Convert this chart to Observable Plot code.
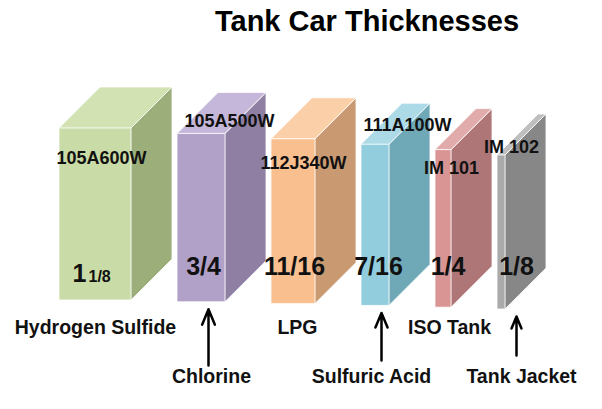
<!DOCTYPE html>
<html><head><meta charset="utf-8">
<script src="https://cdn.jsdelivr.net/npm/d3@7"></script>
<script src="https://cdn.jsdelivr.net/npm/@observablehq/plot@0.6"></script>
<style>html,body{margin:0;padding:0;background:#fff;} #chart svg{display:block}</style>
</head><body><div id="chart"></div>
<script>
// ---- data ----
const cars = ["Hydrogen Sulfide", "Chlorine", "LPG", "Sulfuric Acid", "ISO Tank", "Tank Jacket"];
const specs = ["105A600W", "105A500W", "112J340W", "111A100W", "IM 101", "IM 102"];
const thickness = [1.125, 0.75, 0.6875, 0.4375, 0.25, 0.125]; // inches
const thicknessLabels = ["1 1/8", "3/4", "11/16", "7/16", "1/4", "1/8"];
const title = "Tank Car Thicknesses";

// ---- styles ----
const frontColors = ["#c9dba6", "#b1a0c8", "#f9bf8f", "#92cddd", "#d99594", "#aaaaaa"];
const sideColors  = ["#9cae7a", "#8e7fa3", "#c99a72", "#6fa8b6", "#ae7676", "#878787"];
const topColors   = ["#d2e2b2", "#c5b7d9", "#fbcfa8", "#acdae6", "#e2abab", "#bfbfbf"];

// ---- layout (pixel nudges, 64 px per inch) ----
const K = 64;
const u = p => p / K;
const gap = u(46), depth = u(41);
const specDx = [42, 52, 32, 46, 16, 14], specDy = [30, -13, 24, -19, 18, -8];
const thickDx = [13, 26, 23, 17, 12.5, 19];
const labelDx = [0, 10, 4, -4, 6, 20];
const arrowDx = [0, 7, 0, 6, 0, 15];
const arrowTail = [0, 365, 0, 360, 0, 355];
const font = "'Liberation Sans', Arial, Helvetica, sans-serif";

let acc = 0;
const boxes = thickness.map((t, i) => {
  const L = acc; acc += t + gap;
  const bPx = 300 + 1.8 * i, tPx = 128 + 5.4 * i;
  return {i, L, R: L + t, b: u(305 - bPx), t: u(305 - tPx), bPx, tPx,
    front: frontColors[i], side: sideColors[i], top: topColors[i],
    car: cars[i], spec: specs[i], label: thicknessLabels[i]};
});

const sidePts = boxes.flatMap(d => [
  {i: d.i, x: d.R, y1: d.b, y2: d.t, c: d.side},
  {i: d.i, x: d.R + depth, y1: d.b + depth, y2: d.t + depth, c: d.side}
]);
const topPts = boxes.flatMap(d => [
  {i: d.i, y: d.t, x1: d.L, x2: d.R, c: d.top},
  {i: d.i, y: d.t + depth, x1: d.L + depth, x2: d.R + depth, c: d.top}
]);

const fracOnly = boxes.filter(d => !d.label.includes(" "));
const mixed = boxes.filter(d => d.label.includes(" "));
const arrowed = boxes.filter(d => d.i % 2 === 1);

const chart = Plot.plot({
  width: 602, height: 409,
  marginTop: 0, marginRight: 0, marginBottom: 0, marginLeft: 0,
  x: {domain: [u(-59), u(543)], axis: null},
  y: {domain: [u(-104), u(305)], axis: null},
  color: {type: "identity"},
  style: {background: "#fff", fontFamily: font, overflow: "visible"},
  marks: [
    Plot.areaY(sidePts, {x: "x", y1: "y1", y2: "y2", z: "i", fill: "c", stroke: "#fff", strokeWidth: 1, strokeOpacity: 0.8, curve: "linear"}),
    Plot.areaX(topPts, {y: "y", x1: "x1", x2: "x2", z: "i", fill: "c", stroke: "#fff", strokeWidth: 1, strokeOpacity: 0.8, curve: "linear"}),
    Plot.rect(boxes, {x1: "L", x2: "R", y1: "b", y2: "t", fill: "front", stroke: "#fff", strokeWidth: 1, strokeOpacity: 0.8}),
    // spec labels
    Plot.text(boxes, {x: d => d.L + u(specDx[d.i]), y: d => u(305 - d.tPx - specDy[d.i]), text: "spec",
      fontSize: 18, fontWeight: "bold", fill: "#111", lineAnchor: "middle"}),
    // thickness labels
    Plot.text(fracOnly, {x: d => d.L + u(thickDx[d.i]), y: u(39), text: "label",
      fontSize: 25, fontWeight: "bold", fill: "#111", lineAnchor: "middle"}),
    Plot.text(mixed, {x: d => d.L + u(thickDx[d.i]), y: u(31.5), text: d => d.label.split(" ")[0],
      fontSize: 25, fontWeight: "bold", fill: "#111", textAnchor: "start", lineAnchor: "middle"}),
    Plot.text(mixed, {x: d => d.L + u(thickDx[d.i] + 16), y: u(29), text: d => d.label.split(" ")[1],
      fontSize: 16, fontWeight: "bold", fill: "#111", textAnchor: "start", lineAnchor: "middle"}),
    // arrows
    Plot.arrow(arrowed, {x1: d => (d.L + d.R) / 2 + u(arrowDx[d.i]), x2: d => (d.L + d.R) / 2 + u(arrowDx[d.i]),
      y1: d => u(305 - arrowTail[d.i]), y2: d => u(305 - d.bPx - 7),
      stroke: "#000", strokeWidth: 2.5, headLength: 10, headAngle: 45}),
    // car labels
    Plot.text(boxes, {x: d => (d.L + d.R) / 2 + u(labelDx[d.i]), y: d => d.i % 2 ? u(305 - 376) : u(305 - 327.5), text: "car",
      fontSize: 19.5, fontWeight: "bold", fill: "#111", lineAnchor: "middle"}),
    // title
    Plot.text([title], {frameAnchor: "top-left", dx: 366.5, dy: 21, text: d => d, textAnchor: "middle", lineAnchor: "middle",
      fontSize: 29, fontWeight: "bold", fill: "#000"})
  ]
});
document.getElementById("chart").append(chart);
</script>
</body></html>
